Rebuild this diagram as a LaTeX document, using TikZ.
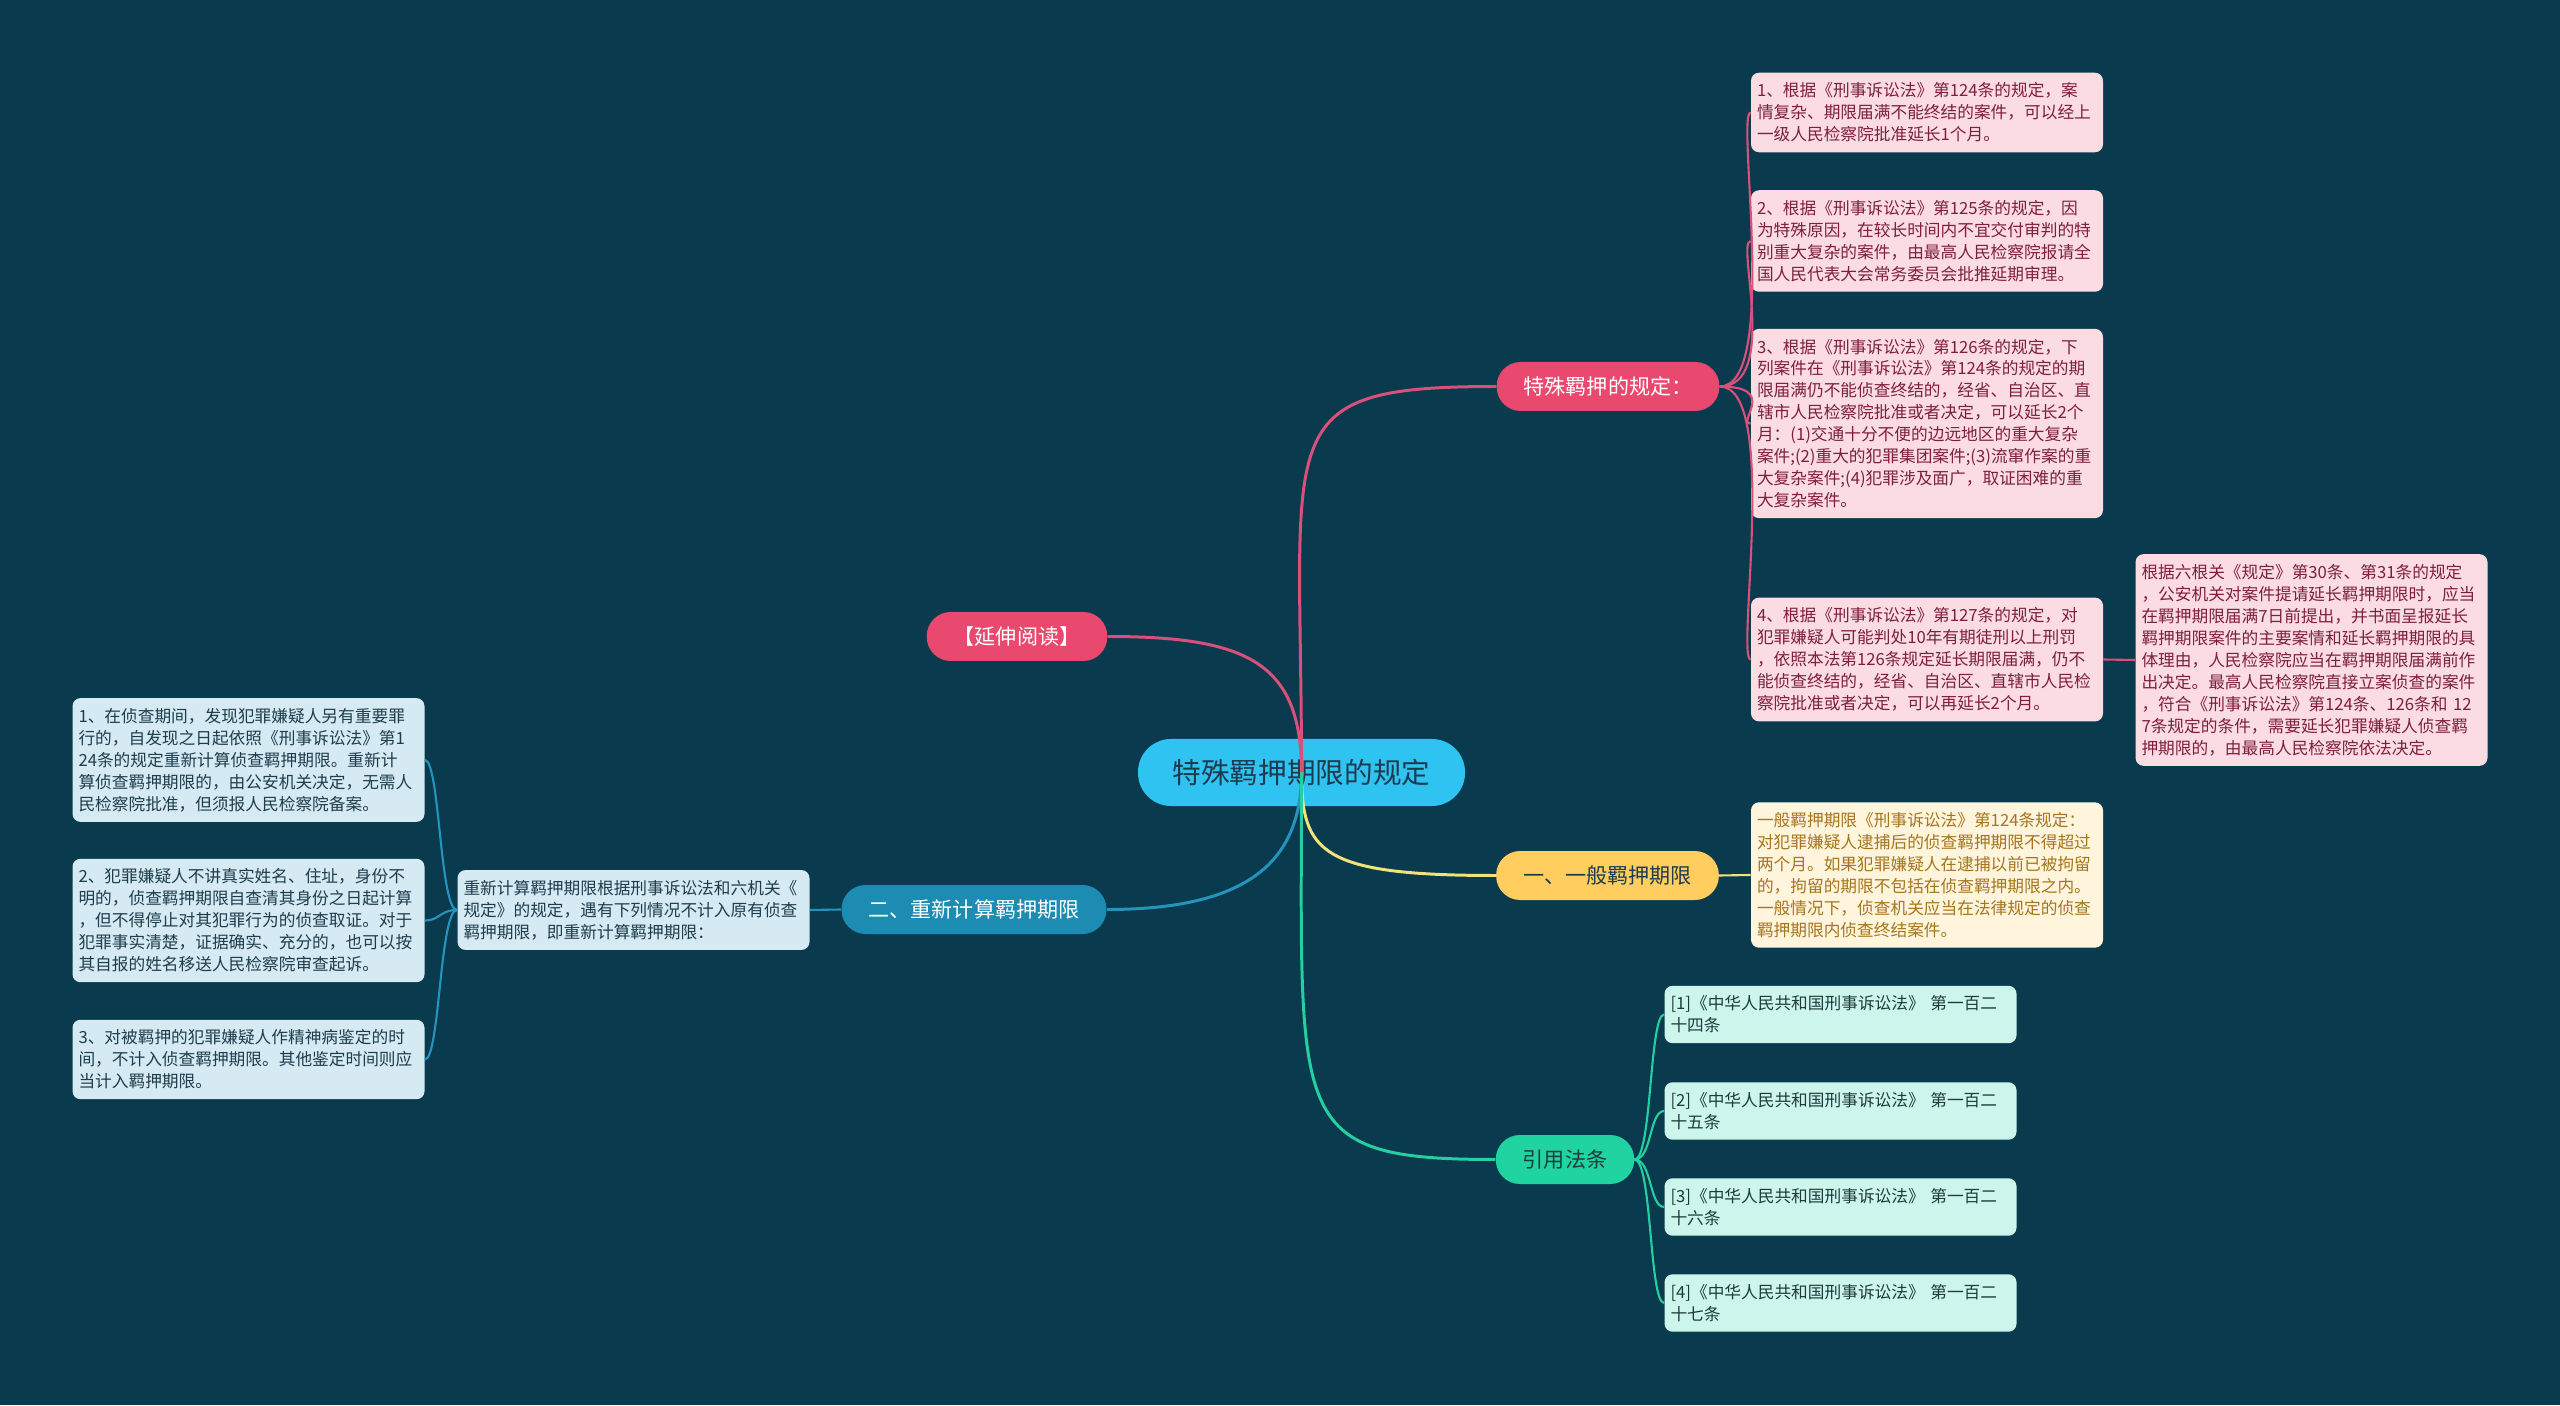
\documentclass[tikz,border=0pt]{standalone}
\usepackage{fontspec}
\setmainfont{Noto Sans CJK SC}
\usepackage{tikz}
\usepackage{xcolor}

\definecolor{bgcol}{HTML}{093A4E}
\definecolor{rootfill}{HTML}{2FC3F2}
\definecolor{roottext}{HTML}{1D3B4E}
\definecolor{pinkmain}{HTML}{E9496F}
\definecolor{pinkline}{HTML}{D9507A}
\definecolor{pinkleaf}{HTML}{FBDCE2}
\definecolor{pinktext}{HTML}{7E1F3E}
\definecolor{yellowmain}{HTML}{FFCE5E}
\definecolor{yellowline}{HTML}{F2E27A}
\definecolor{yellowleaf}{HTML}{FFF4DC}
\definecolor{yellowtext}{HTML}{A6761C}
\definecolor{bluemain}{HTML}{1C8CB2}
\definecolor{blueline}{HTML}{2594BD}
\definecolor{blueleaf}{HTML}{D5EAF2}
\definecolor{bluetext}{HTML}{1E3D4D}
\definecolor{greenmain}{HTML}{20D4A2}
\definecolor{greenline}{HTML}{25CFA0}
\definecolor{greenleaf}{HTML}{CCF5EC}
\definecolor{greentext}{HTML}{1E3B3B}

\tikzset{
    root/.style={fill=rootfill, text=roottext, rounded corners=0.66cm, minimum width=6.54cm, minimum height=1.34cm, font=\fontsize{16.3pt}{20pt}\selectfont},
    branch/.style={rounded corners=0.48cm, minimum height=0.98cm, inner xsep=0.54cm, font=\fontsize{12pt}{14pt}\selectfont},
    leaf/.style={rounded corners=0.16cm, text width=6.8cm, inner xsep=0.12cm, inner ysep=0.2cm, align=left, font=\fontsize{9.5pt}{12.5pt}\selectfont},
    link/.style={line width=1.7pt},
    sublink/.style={line width=1.2pt},
}

\begin{document}
\begin{tikzpicture}
        \fill[bgcol] (0,0) rectangle (51.2,28.1);
        \useasboundingbox (0,0) rectangle (51.2,28.1);

        \node (n0) at (26.03, 12.65) [root] {特殊羁押期限的规定};

        \node (n1) at (32.16, 20.37) [branch, fill=pinkmain, text=white] {特殊羁押的规定：};
        \node (n2) at (20.34, 15.37) [branch, fill=pinkmain, text=white] {【延伸阅读】};
        \node (n3) at (32.15, 10.59) [branch, fill=yellowmain, text=roottext] {一、一般羁押期限};
        \node (n4) at (19.48,  9.91) [branch, fill=bluemain, text=white] {二、重新计算羁押期限};
        \node (n5) at (31.30,  4.91) [branch, fill=greenmain, text=greentext] {引用法条};

        \node (n11) at (38.54, 25.85) [leaf, fill=pinkleaf, text=pinktext] {1、根据《刑事诉讼法》第124条的规定，案\\情复杂、期限届满不能终结的案件，可以经上\\一级人民检察院批准延长1个月。};
        \node (n12) at (38.54, 23.28) [leaf, fill=pinkleaf, text=pinktext] {2、根据《刑事诉讼法》第125条的规定，因\\为特殊原因，在较长时间内不宜交付审判的特\\别重大复杂的案件，由最高人民检察院报请全\\国人民代表大会常务委员会批推延期审理。};
        \node (n13) at (38.54, 19.63) [leaf, fill=pinkleaf, text=pinktext] {3、根据《刑事诉讼法》第126条的规定，下\\列案件在《刑事诉讼法》第124条的规定的期\\限届满仍不能侦查终结的，经省、自治区、直\\辖市人民检察院批准或者决定，可以延长2个\\月：(1)交通十分不便的边远地区的重大复杂\\案件;(2)重大的犯罪集团案件;(3)流窜作案的重\\大复杂案件;(4)犯罪涉及面广，取证困难的重\\大复杂案件。};
        \node (n14) at (38.54, 14.91) [leaf, fill=pinkleaf, text=pinktext] {4、根据《刑事诉讼法》第127条的规定，对\\犯罪嫌疑人可能判处10年有期徒刑以上刑罚\\，依照本法第126条规定延长期限届满，仍不\\能侦查终结的，经省、自治区、直辖市人民检\\察院批准或者决定，可以再延长2个月。};
        \node (n141) at (46.23, 14.90) [leaf, fill=pinkleaf, text=pinktext] {根据六根关《规定》第30条、第31条的规定\\，公安机关对案件提请延长羁押期限时，应当\\在羁押期限届满7日前提出，并书面呈报延长\\羁押期限案件的主要案情和延长羁押期限的具\\体理由，人民检察院应当在羁押期限届满前作\\出决定。最高人民检察院直接立案侦查的案件\\，符合《刑事诉讼法》第124条、126条和 12\\7条规定的条件，需要延长犯罪嫌疑人侦查羁\\押期限的，由最高人民检察院依法决定。};

        \node (n31) at (38.54, 10.60) [leaf, fill=yellowleaf, text=yellowtext] {一般羁押期限《刑事诉讼法》第124条规定：\\对犯罪嫌疑人逮捕后的侦查羁押期限不得超过\\两个月。如果犯罪嫌疑人在逮捕以前已被拘留\\的，拘留的期限不包括在侦查羁押期限之内。\\一般情况下，侦查机关应当在法律规定的侦查\\羁押期限内侦查终结案件。};

        \node (n41) at (12.67,  9.90) [leaf, fill=blueleaf, text=bluetext] {重新计算羁押期限根据刑事诉讼法和六机关《\\规定》的规定，遇有下列情况不计入原有侦查\\羁押期限，即重新计算羁押期限：};
        \node (n411) at ( 4.97, 12.90) [leaf, fill=blueleaf, text=bluetext] {1、在侦查期间，发现犯罪嫌疑人另有重要罪\\行的，自发现之日起依照《刑事诉讼法》第1\\24条的规定重新计算侦查羁押期限。重新计\\算侦查羁押期限的，由公安机关决定，无需人\\民检察院批准，但须报人民检察院备案。};
        \node (n412) at ( 4.97,  9.69) [leaf, fill=blueleaf, text=bluetext] {2、犯罪嫌疑人不讲真实姓名、住址，身份不\\明的，侦查羁押期限自查清其身份之日起计算\\，但不得停止对其犯罪行为的侦查取证。对于\\犯罪事实清楚，证据确实、充分的，也可以按\\其自报的姓名移送人民检察院审查起诉。};
        \node (n413) at ( 4.97,  6.91) [leaf, fill=blueleaf, text=bluetext] {3、对被羁押的犯罪嫌疑人作精神病鉴定的时\\间，不计入侦查羁押期限。其他鉴定时间则应\\当计入羁押期限。};

        \node (n51) at (36.81,  7.81) [leaf, fill=greenleaf, text=greentext] {[1]《中华人民共和国刑事诉讼法》 第一百二\\十四条};
        \node (n52) at (36.81,  5.88) [leaf, fill=greenleaf, text=greentext] {[2]《中华人民共和国刑事诉讼法》 第一百二\\十五条};
        \node (n53) at (36.81,  3.96) [leaf, fill=greenleaf, text=greentext] {[3]《中华人民共和国刑事诉讼法》 第一百二\\十六条};
        \node (n54) at (36.81,  2.04) [leaf, fill=greenleaf, text=greentext] {[4]《中华人民共和国刑事诉讼法》 第一百二\\十七条};

        % main branches
        \draw[link, pinkline] (n0.center) .. controls +(0,6.9) and +(-4.6,0) .. (n1.west);
        \draw[link, pinkline] (n0.center) .. controls +(0,2.2) and +(2.8,0) .. (n2.east);
        \draw[link, yellowline] (n0.center) .. controls +(0,-1.6) and +(-3.5,0) .. (n3.west);
        \draw[link, blueline] (n0.center) .. controls +(0,-1.8) and +(2.8,0) .. (n4.east);
        \draw[link, greenline] (n0.center) .. controls +(0,-7.0) and +(-4.2,0) .. (n5.west);

        % leaves
        \foreach \m in {n11, n12, n13, n14}
            \draw[sublink, pinkline] (n1.east) .. controls +(1.2,0) and +(-0.3,0) .. (\m.west);
        \draw[sublink, pinkline] (n14.east) -- (n141.west);
        \draw[sublink, yellowline] (n3.east) -- (n31.west);
        \draw[sublink, blueline] (n4.west) -- (n41.east);
        \foreach \m in {n411, n412, n413}
            \draw[sublink, blueline] (n41.west) .. controls +(-0.35,0) and +(0.3,0) .. (\m.east);
        \foreach \m in {n51, n52, n53, n54}
            \draw[sublink, greenline] (n5.east) .. controls +(0.35,0) and +(-0.3,0) .. (\m.west);
    \end{tikzpicture}
\end{document}
